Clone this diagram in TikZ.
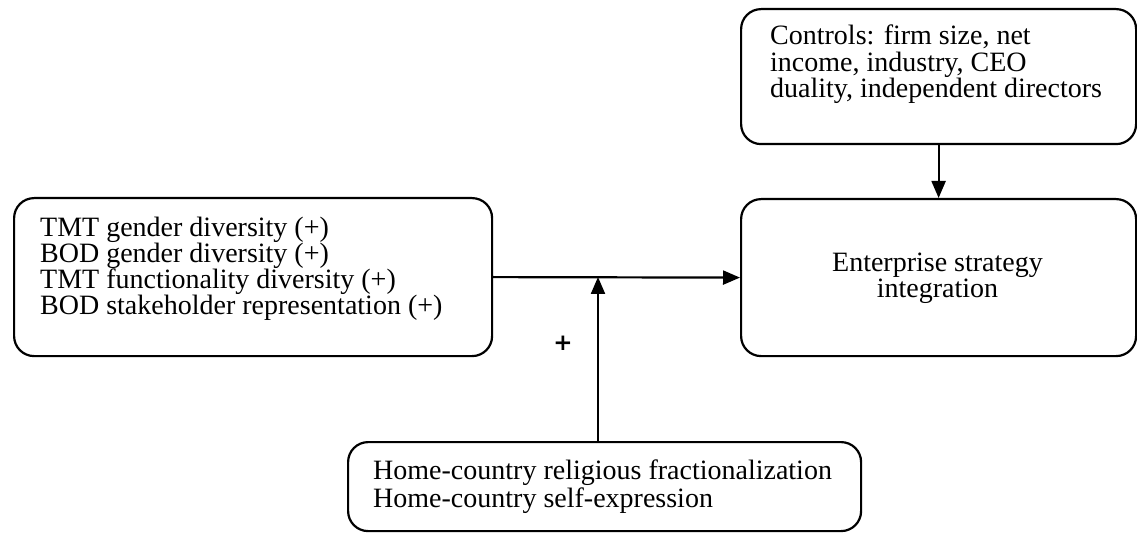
\documentclass[tikz,border=0pt]{standalone}
\usepackage{fontspec}
\setmainfont{Liberation Serif}
\newfontfamily\plusfont{DejaVu Sans}
\usetikzlibrary{arrows.meta}
\begin{document}
\begin{tikzpicture}[x=1pt,y=-1pt,
  box/.style={draw,line width=2.2pt,rounded corners=20pt,inner sep=0pt,anchor=north west},
  txt/.style={inner sep=0pt,anchor=base west,font=\fontsize{28}{26}\selectfont},
  ctxt/.style={inner sep=0pt,anchor=base,font=\fontsize{28}{26}\selectfont},
  arr/.style={line width=2.2pt,-{Triangle[length=17pt,width=14pt]}}]
\useasboundingbox (0,0) rectangle (1137,534);
\fill[white] (0,0) rectangle (1137,534);
% boxes
\node[box,minimum width=478pt,minimum height=158pt] (L) at (13,197) {};
\node[box,minimum width=395pt,minimum height=135pt] (C) at (740,8) {};
\node[box,minimum width=395pt,minimum height=157pt] (E) at (740,198) {};
\node[box,minimum width=513pt,minimum height=89pt] (H) at (347,441) {};
% texts
\node[txt] (l1) at (40,237) {TMT gender diversity (+)};
\node[txt] (l2) at (40,263) {BOD gender diversity (+)};
\node[txt] (l3) at (40,289) {TMT functionality diversity (+)};
\node[txt] (l4) at (40,315) {BOD stakeholder representation (+)};
\node[txt] (c1) at (770,45) {Controls: firm size, net};
\node[txt] (c2) at (770,72) {income, industry, CEO};
\node[txt] (c3) at (770,98) {duality, independent directors};
\node[ctxt] (e1) at (937.5,272) {Enterprise strategy};
\node[ctxt] (e2) at (937.5,298) {integration};
\node[txt] (h1) at (373,479) {Home-country religious fractionalization};
\node[txt] (h2) at (373,507) {Home-country self-expression};
\node[inner sep=0pt,font=\plusfont\bfseries\fontsize{23}{23}\selectfont] (plus) at (563,343) {+};
% connectors
\coordinate (J) at (598,277);
\draw[arr] (L.east) -- (E.west);
\draw[arr] (C.south) -- (E.north);
\draw[arr] (J |- H.north) -- (J);
\end{tikzpicture}
\end{document}
